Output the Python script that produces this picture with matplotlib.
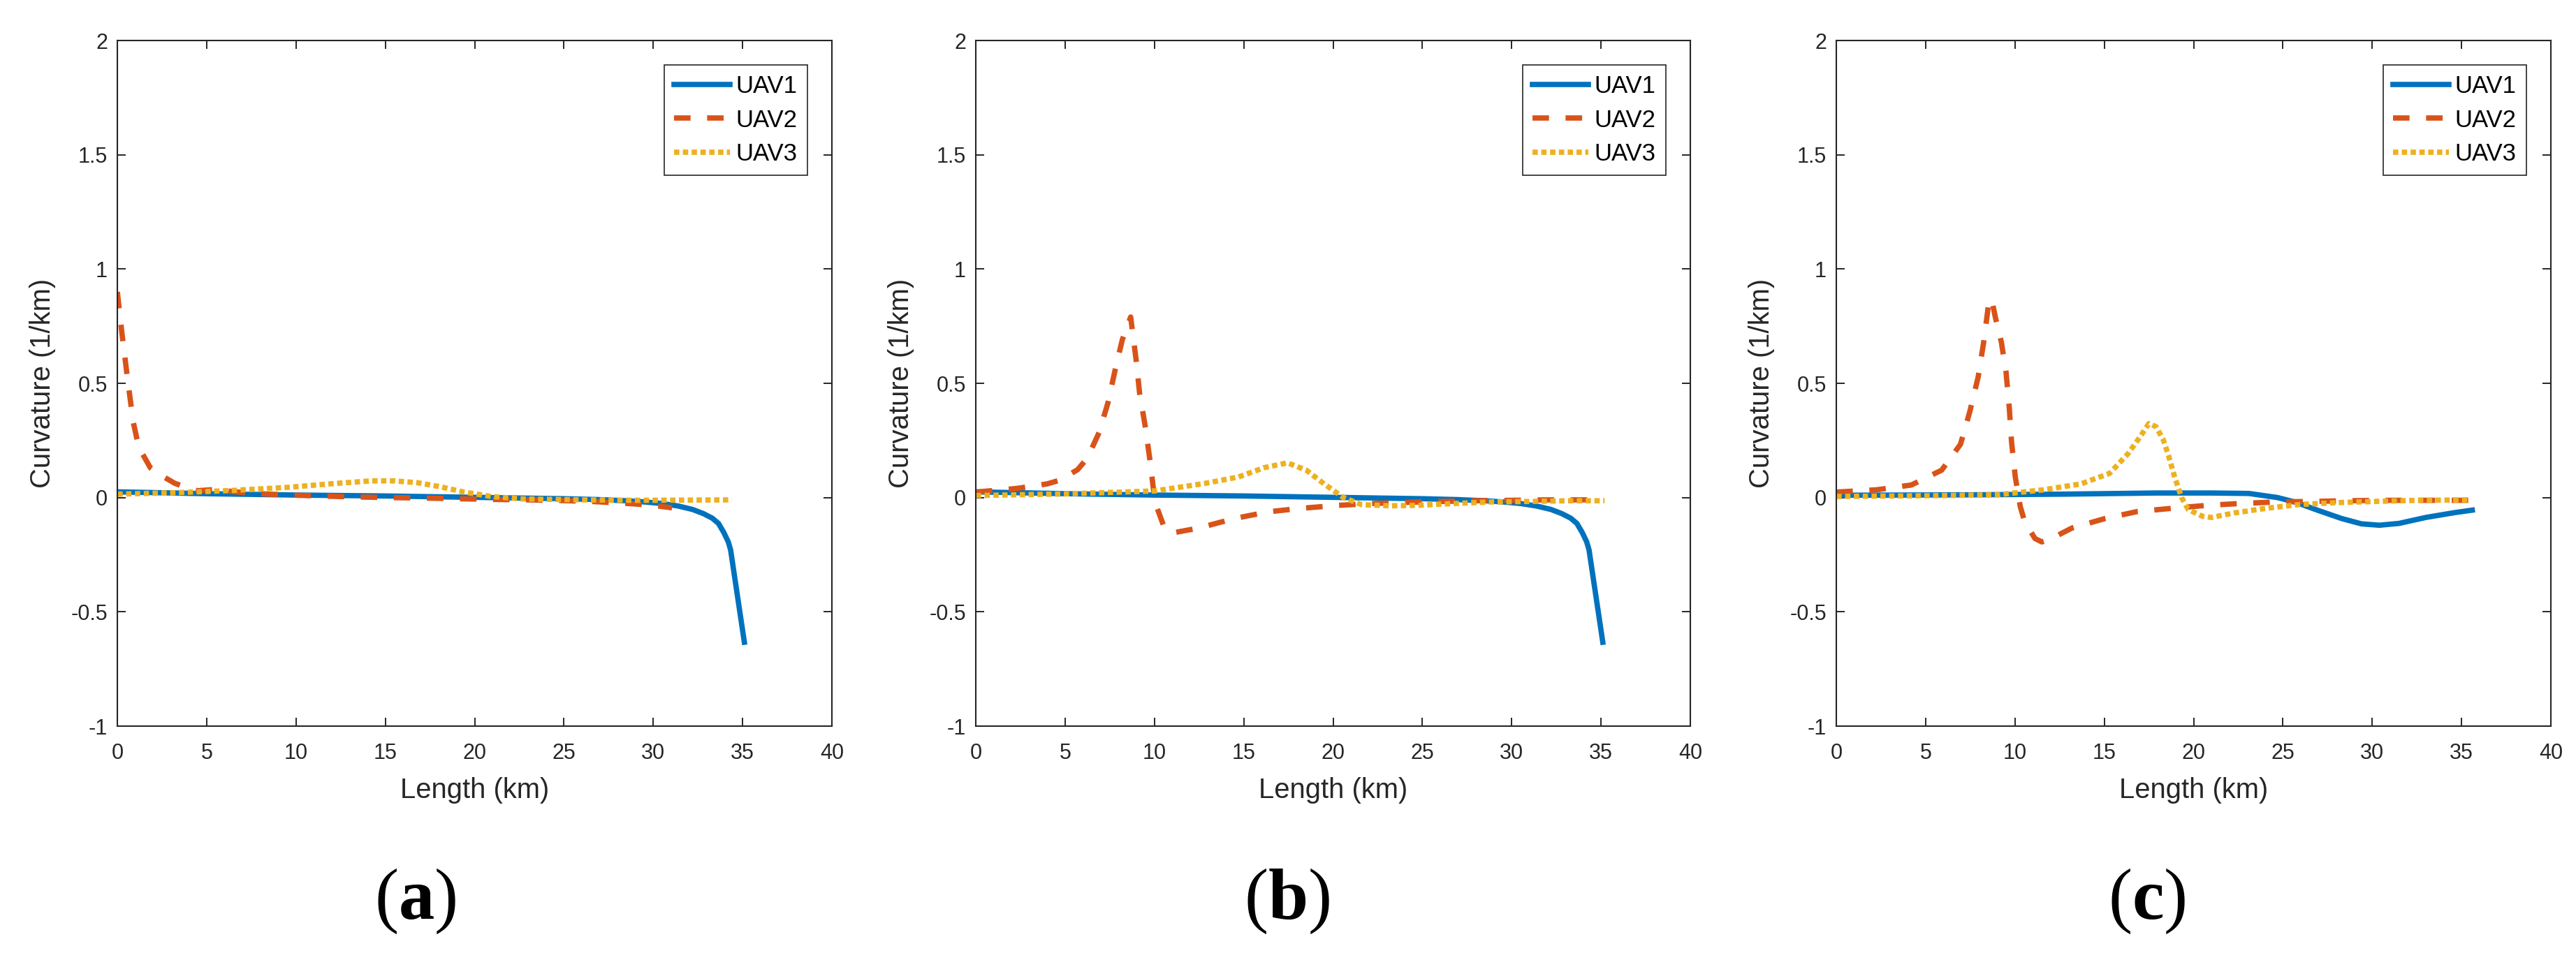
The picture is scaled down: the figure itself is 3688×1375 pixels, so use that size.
import numpy as np
import matplotlib
matplotlib.use('Agg')
import matplotlib.pyplot as plt

# values
# (a) and (b) share the same UAV1 curve
uav1_ab_x = [0, 2.5, 5, 7.5, 10, 12.5, 15, 17.5, 20, 22.5, 25, 27, 28.5, 29.5, 30.5, 31.4,
             32.2, 32.8, 33.3, 33.65, 33.95, 34.2, 34.33, 35.1]
uav1_ab_y = [0.025, 0.021, 0.017, 0.014, 0.011, 0.009, 0.007, 0.004, 0.001, -0.002, -0.005,
             -0.009, -0.014, -0.019, -0.026, -0.037, -0.052, -0.07, -0.09, -0.113, -0.153,
             -0.194, -0.229, -0.633]

uav2_a_x = [0, 0.24, 0.57, 0.89, 1.2, 1.85, 2.5, 3.2, 4.0, 4.5, 5.4, 7.4, 9.3, 11.3, 13.2,
            15.2, 17.1, 19.0, 21.0, 22.9, 24.9, 26.8, 28.8, 30.0, 31.05]
uav2_a_y = [0.9, 0.73, 0.52, 0.33, 0.22, 0.13, 0.095, 0.063, 0.04, 0.03, 0.035, 0.019, 0.012,
            0.007, 0.003, 0.0, -0.002, -0.005, -0.008, -0.01, -0.013, -0.018, -0.027, -0.034,
            -0.045]
uav3_a_x = [0, 3.2, 6.4, 9.6, 11.9, 14.2, 15.5, 16.8, 18.1, 19.4, 21.0, 22.7, 26.0, 29.2, 32, 34.4]
uav3_a_y = [0.015, 0.021, 0.031, 0.045, 0.06, 0.073, 0.073, 0.065, 0.047, 0.024, 0.004, -0.006,
            -0.01, -0.012, -0.011, -0.01]

uav2_b_x = [0, 2.3, 4.0, 4.7, 5.7, 6.24, 6.9, 7.4, 7.8, 8.2, 8.67, 8.98, 9.17, 9.5, 9.77, 10.03,
            10.5, 11.0, 12.5, 14.45, 16.4, 18.2, 20.3, 22.2, 24.1, 26.05, 28.0, 30.0, 32.0, 34.5]
uav2_b_y = [0.024, 0.04, 0.06, 0.076, 0.122, 0.172, 0.284, 0.415, 0.558, 0.69, 0.79, 0.6, 0.457,
            0.305, 0.152, -0.02, -0.12, -0.155, -0.133, -0.092, -0.062, -0.047, -0.034, -0.026,
            -0.021, -0.017, -0.014, -0.012, -0.01, -0.01]
uav3_b_x = [0, 5, 10, 12.76, 14.7, 16.15, 17.45, 18.5, 19.5, 20.58, 21.6, 23.2, 24.7, 26.8,
            28.9, 31, 33.1, 35.2]
uav3_b_y = [0.009, 0.016, 0.029, 0.061, 0.09, 0.131, 0.152, 0.12, 0.06, 0.0, -0.031, -0.036,
            -0.034, -0.026, -0.019, -0.017, -0.014, -0.014]

uav1_c_x = [0, 7.5, 12.7, 17.9, 21.0, 23.1, 24.7, 25.7, 27.0, 28.3, 29.4, 30.4, 31.5, 33.0,
            34.6, 35.6]
uav1_c_y = [0.01, 0.012, 0.015, 0.02, 0.02, 0.018, 0.0, -0.02, -0.057, -0.092, -0.115, -0.121,
            -0.113, -0.087, -0.066, -0.055]
uav2_c_x = [0, 2.25, 4.2, 5.9, 6.95, 7.47, 7.94, 8.25, 8.56, 8.72, 8.9, 9.24, 9.5, 9.68, 9.81,
            10.02, 10.3, 10.55, 11.12, 11.5, 11.9, 13.2, 15.03, 16.85, 18.94, 20.76, 22.6, 24.67,
            26.5, 28.6, 30.4, 32.5, 35.6]
uav2_c_y = [0.024, 0.034, 0.055, 0.12, 0.233, 0.375, 0.527, 0.68, 0.868, 0.86, 0.79, 0.68, 0.55,
            0.396, 0.243, 0.09, -0.04, -0.107, -0.179, -0.194, -0.185, -0.133, -0.092, -0.061,
            -0.046, -0.034, -0.026, -0.019, -0.017, -0.014, -0.012, -0.012, -0.012]
uav3_c_x = [0, 5, 9, 11.6, 13.7, 15.3, 16.33, 16.98, 17.5, 17.9, 18.3, 18.6, 18.94, 19.33, 19.7,
            20.5, 21.0, 22.3, 24.15, 26.0, 28.06, 30.1, 32.5, 35.5]
uav3_c_y = [0.005, 0.008, 0.012, 0.034, 0.06, 0.106, 0.192, 0.263, 0.324, 0.31, 0.254, 0.183,
            0.09, 0.0, -0.052, -0.082, -0.087, -0.067, -0.046, -0.03, -0.022, -0.017, -0.012,
            -0.01]

panels = [
    ('a', [(uav1_ab_x, uav1_ab_y), (uav2_a_x, uav2_a_y), (uav3_a_x, uav3_a_y)]),
    ('b', [(uav1_ab_x, uav1_ab_y), (uav2_b_x, uav2_b_y), (uav3_b_x, uav3_b_y)]),
    ('c', [(uav1_c_x, uav1_c_y), (uav2_c_x, uav2_c_y), (uav3_c_x, uav3_c_y)]),
]
series_names = ['UAV1', 'UAV2', 'UAV3']
colors = ['#0072BD', '#D95319', '#EDB120']
x_ticks = [0, 5, 10, 15, 20, 25, 30, 35, 40]
y_ticks = [-1, -0.5, 0, 0.5, 1, 1.5, 2]
y_ticklabels = ['-1', '-0.5', '0', '0.5', '1', '1.5', '2']

plt.rcParams['font.family'] = ['Liberation Sans', 'DejaVu Sans']
plt.rcParams['axes.unicode_minus'] = False
plt.rcParams['mathtext.fontset'] = 'custom'
plt.rcParams['mathtext.rm'] = 'Liberation Serif'
plt.rcParams['mathtext.bf'] = 'Liberation Serif:bold'

W, H = 3688, 1375
fig = plt.figure(figsize=(W / 100, H / 100), dpi=100)
fc = '#262626'
lw = 5.5

ax_left = [168, 1397, 2629]
ax_w, ax_top, ax_bot = 1023, 58, 1040
label_x = [595, 1842, 3074]

for i, (tag, data) in enumerate(panels):
    ax = fig.add_axes([ax_left[i] / W, 1 - ax_bot / H, ax_w / W, (ax_bot - ax_top) / H])
    styles = [dict(linestyle='-'),
              dict(linestyle=(0, (3.1, 3.1))),
              dict(linestyle=(0, (1.0, 0.65)))]
    for (xs, ys), name, c, st in zip(data, series_names, colors, styles):
        ax.plot(xs, ys, color=c, lw=lw, label=name, solid_joinstyle='miter', **st)
    ax.set_xlim(0, 40)
    ax.set_ylim(-1, 2)
    ax.set_xticks(x_ticks)
    ax.set_yticks(y_ticks)
    ax.set_yticklabels(y_ticklabels)
    ax.tick_params(direction='in', length=8.5, width=1.4, colors=fc, labelsize=22,
                   top=True, right=True, pad=17)
    ax.tick_params(axis='y', pad=10)
    for s in ax.spines.values():
        s.set_linewidth(1.5)
        s.set_color(fc)
    ax.set_xlabel('Length (km)', fontsize=28.8, color=fc, labelpad=14)
    ax.set_ylabel('Curvature (1/km)', fontsize=28.8, color=fc)
    ax.yaxis.set_label_coords(-0.086, 0.5)
    leg = ax.legend(loc='upper right', fontsize=25, frameon=True, fancybox=False,
                    framealpha=1, edgecolor=fc, borderaxespad=1.0, handlelength=2.3,
                    handletextpad=0.25, labelspacing=0.44, borderpad=0.42)
    leg.get_frame().set_linewidth(1.2)
    fig.text(label_x[i] / W, 1 - 1291 / H, r'($\mathbf{' + tag + '}$)', ha='center', va='center',
             fontsize=74, family='Liberation Serif', color='black')

fig.savefig('out.png', dpi=100, facecolor='white')
